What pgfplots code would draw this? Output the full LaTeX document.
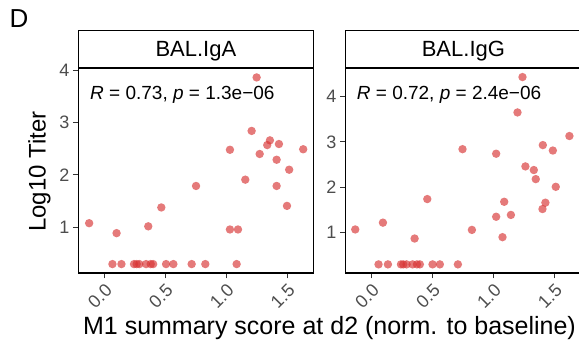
\documentclass[border=0pt]{standalone}
\usepackage{pgfplots}
\pgfplotsset{compat=1.18}
\usepackage{fontspec}
\setmainfont{Liberation Sans}
\definecolor{ptred}{RGB}{215,50,50}
\definecolor{tickgray}{RGB}{77,77,77}
\pgfplotstableread{
x y
-0.125 1.08
0.100 0.89
0.066 0.30
0.140 0.30
0.243 0.30
0.265 0.30
0.287 0.30
0.342 0.30
0.380 0.30
0.400 0.30
0.506 0.30
0.566 0.30
0.716 0.30
0.828 0.30
1.085 0.30
0.360 1.02
0.467 1.38
0.752 1.79
1.030 2.48
1.030 0.96
1.096 0.96
1.156 1.91
1.208 2.84
1.249 3.86
1.274 2.40
1.336 2.57
1.358 2.66
1.432 2.59
1.413 2.29
1.413 1.79
1.498 1.41
1.516 2.10
1.631 2.49
}\igadata
\pgfplotstableread{
x y
-0.134 1.07
0.093 1.22
0.057 0.30
0.134 0.30
0.241 0.30
0.260 0.30
0.287 0.30
0.336 0.30
0.372 0.30
0.396 0.30
0.500 0.30
0.560 0.30
0.708 0.30
0.353 0.87
0.457 1.74
0.746 2.84
0.823 1.06
1.022 2.74
1.022 1.35
1.074 0.90
1.088 1.68
1.143 1.39
1.197 3.65
1.238 4.43
1.262 2.46
1.331 2.38
1.347 2.18
1.405 2.93
1.402 1.52
1.426 1.66
1.487 2.81
1.511 2.01
1.623 3.13
}\iggdata
\pgfplotsset{
  panel/.style={
    scale only axis, width=235.5pt, height=205pt,
    xmin=-0.214, xmax=1.718,
    axis line style={line width=1.3pt, black},
    tick pos=left, tick align=outside, major tick length=5.5pt,
    tick style={line width=1pt, black!80},
    xtick={0,0.5,1,1.5}, xticklabels={0.0,0.5,1.0,1.5},
    ytick={1,2,3,4}, yticklabels={1,2,3,4},
    tick label style={font=\fontsize{18}{18}\selectfont, text=tickgray},
    xticklabel style={anchor=center, xshift=-4.5pt, yshift=-17.5pt, rotate=45},
  },
  pts/.style={only marks, mark=*, mark size=4.2pt,
    mark options={draw=ptred, draw opacity=0, fill=ptred, fill opacity=0.65}},
}
\begin{document}
\begin{tikzpicture}
\useasboundingbox (0pt,0pt) rectangle (579pt,344pt);
\clip (0pt,0pt) rectangle (579pt,344pt);
\begin{axis}[panel, anchor=south west, at={(78.3pt,71pt)}, ymin=0.13, ymax=4.04]
\addplot[pts] table[x=x,y=y] {\igadata};
\end{axis}
\begin{axis}[panel, anchor=south west, at={(345.5pt,71pt)}, ymin=0.11, ymax=4.63]
\addplot[pts] table[x=x,y=y] {\iggdata};
\end{axis}
% strips
\draw[line width=1.3pt] (78.3pt,276pt) rectangle (313.8pt,313.3pt);
\draw[line width=1.3pt] (345.5pt,276pt) rectangle (581.5pt,313.3pt);
\node[anchor=base, font=\fontsize{22}{22}\selectfont] at (195.9pt,287.7pt) {BAL.IgA};
\node[anchor=base, font=\fontsize{22}{22}\selectfont] at (463.4pt,287.7pt) {BAL.IgG};
% annotations
\node[anchor=base west, inner sep=0, font=\fontsize{19}{19}\selectfont] at (90pt,244pt) {\textit{R} = 0.73, \textit{p} = 1.3e−06};
\node[anchor=base west, inner sep=0, font=\fontsize{19}{19}\selectfont] at (356.7pt,244.7pt) {\textit{R} = 0.72, \textit{p} = 2.4e−06};
% titles
\node[anchor=base, rotate=90, inner sep=0, font=\fontsize{24}{24}\selectfont] at (45.5pt,172.5pt) {Log10 Titer};
\node[anchor=base, inner sep=0, font=\fontsize{25}{25}\selectfont] at (329.5pt,9pt) {M1 summary score at d2 (norm. to baseline)};
\node[anchor=base west, inner sep=0, font=\fontsize{26}{26}\selectfont] at (9.5pt,316pt) {D};
\end{tikzpicture}
\end{document}
